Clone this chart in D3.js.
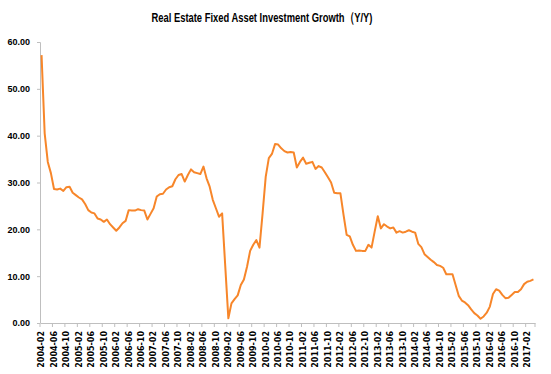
<!DOCTYPE html>
<html>
<head>
<meta charset="utf-8">
<script src="https://cdn.jsdelivr.net/npm/d3@7/dist/d3.min.js"></script>
<style>
body { margin: 0; background: #fff; }
</style>
</head>
<body>
<div id="chart"></div>
<script>
// monthly YTD growth (%), 2004-02 .. 2017-04
const growth = [
  57.2, 40.5, 34.4, 32.0, 28.6, 28.5, 28.7, 28.2, 29.0, 29.1, 27.8, 27.3,
  26.8, 26.4, 25.4, 24.1, 23.6, 23.4, 22.3, 22.1, 21.6, 22.1, 21.1, 20.4,
  19.7, 20.4, 21.3, 21.8, 24.1, 24.0, 24.0, 24.3, 24.1, 24.0, 22.1, 23.3,
  24.5, 27.0, 27.5, 27.6, 28.5, 29.0, 29.2, 30.7, 31.6, 31.8, 30.2, 31.6,
  32.8, 32.2, 32.0, 31.8, 33.4, 30.9, 29.1, 26.3, 24.5, 22.7, 23.4, 12.2,
  1.0, 4.2, 5.1, 5.9, 8.1, 9.3, 12.0, 15.4, 16.7, 17.7, 16.1, 23.4,
  31.2, 35.2, 36.1, 38.2, 38.1, 37.3, 36.7, 36.4, 36.5, 36.4, 33.2, 34.4,
  35.3, 34.0, 34.2, 34.4, 32.9, 33.5, 33.2, 32.2, 31.1, 30.0, 27.8, 27.7,
  27.7, 23.1, 18.8, 18.5, 16.7, 15.4, 15.5, 15.4, 15.4, 16.7, 16.1, 19.5,
  22.8, 20.2, 21.1, 20.6, 20.2, 20.4, 19.3, 19.6, 19.3, 19.5, 19.8, 19.5,
  19.3, 16.9, 16.2, 14.7, 14.1, 13.5, 13.0, 12.4, 12.2, 11.8, 10.4, 10.4,
  10.4, 8.1, 5.8, 4.8, 4.4, 3.8, 2.9, 2.1, 1.6, 0.9, 1.4, 2.2,
  3.5, 6.2, 7.2, 6.9, 6.0, 5.3, 5.4, 6.0, 6.6, 6.6, 7.2, 8.3,
  8.8, 9.0, 9.3
]

const tickLabels = [
  '2004-02','2004-06','2004-10','2005-02','2005-06','2005-10','2006-02','2006-06',
  '2006-10','2007-02','2007-06','2007-10','2008-02','2008-06','2008-10','2009-02',
  '2009-06','2009-10','2010-02','2010-06','2010-10','2011-02','2011-06','2011-10',
  '2012-02','2012-06','2012-10','2013-02','2013-06','2013-10','2014-02','2014-06',
  '2014-10','2015-02','2015-06','2015-10','2016-02','2016-06','2016-10','2017-02'
]

const yTicks = [0, 10, 20, 30, 40, 50, 60]

const months = growth.map((d, i) => {
  let m = 1 + i
  return (2004 + Math.floor(m / 12)) + '-' + String(m % 12 + 1).padStart(2, '0')
})
const data = months.map((m, i) => ({month: m, value: growth[i]}))

const svgWidth = 551, svgHeight = 374
const margin = {left: 40, right: 16, top: 42, bottom: 51}
const width = svgWidth - margin.left - margin.right
const height = svgHeight - margin.top - margin.bottom

const svg = d3.select('#chart')
  .append('svg')
  .attr('width', svgWidth)
  .attr('height', svgHeight)

svg.append('text')
  .attr('x', 262)
  .attr('y', 22)
  .attr('text-anchor', 'middle')
  .style('font-family', "'Liberation Sans Narrow', 'Arial Narrow', sans-serif")
  .style('font-weight', 'bold')
  .style('font-size', '13.5px')
  .attr('textLength', 221)
  .attr('lengthAdjust', 'spacingAndGlyphs')
  .attr('fill', '#000')
  .text('Real Estate Fixed  Asset Investment Growth（Y/Y)')

const g = svg.append('g')
  .attr('transform', `translate(${margin.left},${margin.top})`)

let xScale = d3.scaleBand()
  .domain(months)
  .range([0, width])

let yScale = d3.scaleLinear()
  .domain([0, 60])
  .range([height, 0])

// y axis
let yAxis = g.append('g')
  .call(d3.axisLeft(yScale).tickValues(yTicks).tickSize(3).tickPadding(7).tickFormat(d3.format('.2f')))
yAxis.select('.domain').attr('stroke', '#bfbfbf').attr('d', `M-3,0.5H0.5V${height}`)
yAxis.selectAll('.tick line').attr('stroke', '#bfbfbf')
yAxis.selectAll('text')
  .style('font-family', "'Liberation Sans Narrow', 'Arial Narrow', sans-serif")
  .style('font-weight', 'bold')
  .style('font-size', '9px')
  .attr('fill', '#000')

// x axis
let xAxis = g.append('g')
  .attr('transform', `translate(0,${height})`)
  .call(d3.axisBottom(xScale).tickValues(tickLabels).tickSize(0).tickSizeOuter(0))
xAxis.select('.domain').attr('stroke', '#bfbfbf')
xAxis.selectAll('text')
  .attr('transform', 'rotate(-90)')
  .attr('x', -8)
  .attr('y', 0)
  .attr('dy', '0.35em')
  .style('text-anchor', 'end')
  .style('font-family', "'DejaVu Sans', Verdana, sans-serif")
  .style('font-weight', 'bold')
  .style('font-size', '8px')
  .attr('fill', '#000')

// tick marks at category boundaries
xAxis.selectAll('.bound')
  .data(tickLabels.concat([null]))
  .join('line')
  .attr('class', 'bound')
  .attr('x1', d => d ? xScale(d) : width)
  .attr('x2', d => d ? xScale(d) : width)
  .attr('y1', 0)
  .attr('y2', 4)
  .attr('stroke', '#bfbfbf')

// line
g.append('path')
  .datum(data)
  .attr('fill', 'none')
  .attr('stroke', '#f7862a')
  .attr('stroke-width', 2)
  .attr('stroke-linejoin', 'round')
  .attr('d', d3.line()
    .x(d => xScale(d.month) + xScale.bandwidth() / 2)
    .y(d => yScale(d.value)))
</script>
</body>
</html>
